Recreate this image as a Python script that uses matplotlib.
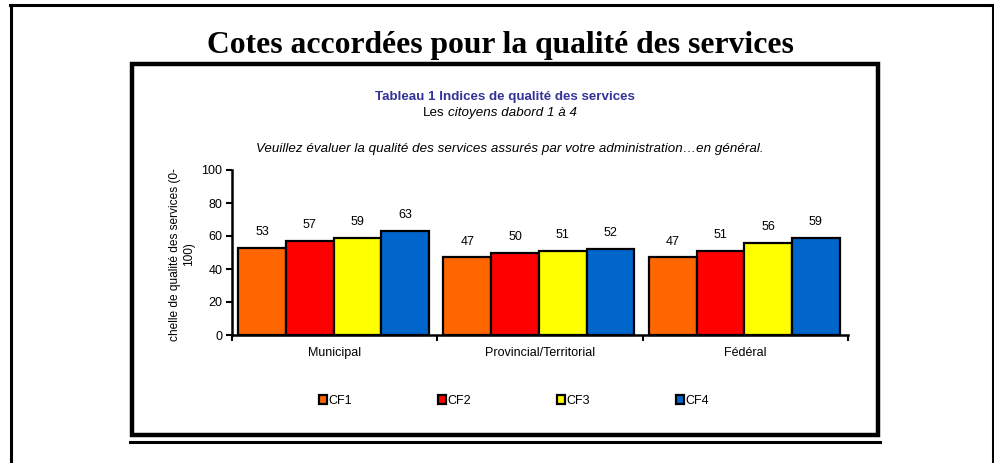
import numpy as np
import matplotlib.pyplot as plt
from matplotlib.lines import Line2D
from matplotlib.patches import Rectangle

plt.rcParams['font.family'] = ['Liberation Sans', 'DejaVu Sans']

# données
categories = ['Municipal', 'Provincial/Territorial', 'Fédéral']
series = ['CF1', 'CF2', 'CF3', 'CF4']
values = {
    'CF1': [53, 47, 47],
    'CF2': [57, 50, 51],
    'CF3': [59, 51, 56],
    'CF4': [63, 52, 59],
}
colors = ['#FF6600', '#FF0000', '#FFFF00', '#0066CC']
yticks = [0, 20, 40, 60, 80, 100]

W, H = 995, 463
fig = plt.figure(figsize=(W / 100, H / 100), dpi=100)


def fx(px):
    return px / W


def fy(py):
    return 1 - py / H


# cadre extérieur
fig.add_artist(Line2D([fx(10), fx(995)], [fy(5), fy(5)], color='black', lw=2.2))
fig.add_artist(Line2D([fx(11), fx(11)], [fy(5), fy(463)], color='black', lw=2.2))
fig.add_artist(Line2D([fx(993), fx(993)], [fy(5), fy(463)], color='black', lw=2.2))

# cadre intérieur
fig.add_artist(Rectangle((fx(132), fy(435)), fx(878) - fx(132), fy(64) - fy(435),
                         transform=fig.transFigure, fill=False, ec='black', lw=3.2))
fig.add_artist(Line2D([fx(130), fx(880)], [fy(442), fy(442)], color='black', lw=2.2))

# titres
fig.text(fx(500), fy(46), 'Cotes accordées pour la qualité des services',
         family='Liberation Serif', weight='bold', fontsize=22.8, ha='center', va='center')
fig.text(fx(505), fy(97), 'Tableau 1 Indices de qualité des services',
         weight='bold', color='#333399', fontsize=9.6, ha='center', va='center')
fig.text(fx(445), fy(113), 'Les', fontsize=9.6, ha='right', va='center')
fig.text(fx(448), fy(113), 'citoyens dabord 1 à 4', style='italic', fontsize=9.6,
         ha='left', va='center')
fig.text(fx(510), fy(149),
         'Veuillez évaluer la qualité des services assurés par votre administration…en général.',
         style='italic', fontsize=9.6, ha='center', va='center')

# graphique
ax = fig.add_axes([fx(232), fy(335), fx(848) - fx(232), fy(170) - fy(335)])
x = np.arange(len(categories)) + 0.5
bw = 0.2325
handles = []
for k, s in enumerate(series):
    xs = x + (k - 1.5) * bw - 0.005
    b = ax.bar(xs, values[s], bw, color=colors[k],
               edgecolor='black', linewidth=1.6, label=s, clip_on=False)
    handles.append(b)
    for xi, v in zip(xs, values[s]):
        ax.annotate(str(v), (xi, v), xytext=(0, 7), textcoords='offset points',
                    ha='center', va='bottom', fontsize=9)

ax.set_xlim(0, 3)
ax.set_ylim(0, 100)
ax.set_yticks(yticks)
ax.set_xticks([0, 1, 2, 3])
ax.set_xticklabels([])
ax.set_xticks(x, minor=True)
ax.set_xticklabels(categories, minor=True, fontsize=9)
ax.tick_params(axis='x', which='minor', length=0, pad=8.5)
ax.tick_params(axis='x', which='major', length=4, width=1.5, direction='out')
ax.tick_params(axis='y', length=4, width=1.5, direction='out', labelsize=9, pad=3)
for sp in ['top', 'right']:
    ax.spines[sp].set_visible(False)
ax.spines['left'].set_linewidth(1.8)
ax.spines['bottom'].set_linewidth(1.8)
ax.set_ylabel('chelle de qualité des services (0-\n100)', fontsize=8.6)
ax.yaxis.set_label_coords(-0.060, 0.49)

fig.legend(handles=handles, labels=series, loc='center', ncol=4,
           bbox_to_anchor=(fx(514), fy(401)), frameon=False, fontsize=9,
           handlelength=0.65, handleheight=0.65, handletextpad=0.12,
           columnspacing=6.85, borderpad=0)

fig.savefig('out.png', dpi=100)
